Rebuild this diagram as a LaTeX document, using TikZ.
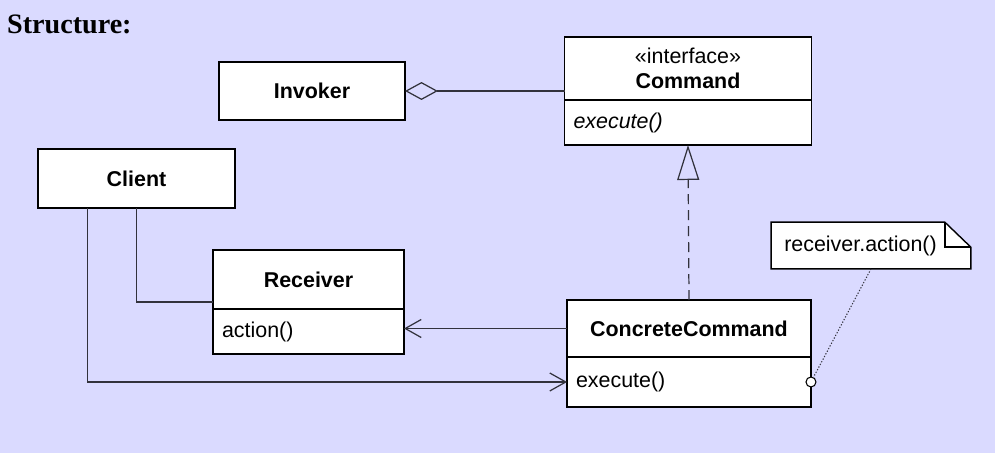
\documentclass[tikz,border=0pt]{standalone}
\usepackage{fontspec}
\setmainfont{Liberation Sans}
\newfontfamily\headfont{Liberation Serif}
\usepackage{tikz}
\usetikzlibrary{positioning,arrows.meta,calc}
\definecolor{bgcolor}{RGB}{218,218,255}
\definecolor{linecolor}{RGB}{50,50,60}
\pgfdeclarelayer{paper}
\pgfdeclarelayer{notepaper}
\pgfsetlayers{paper,notepaper,main}
\tikzstyle{classbox} = [rectangle, draw, fill=white, line width=0.8pt,
    outer sep=0pt, inner sep=0pt, font=\fontsize{12.2}{15.5}\selectfont]
\tikzstyle{classname} = [classbox, font=\fontsize{12.2}{15.5}\selectfont\bfseries]
\tikzstyle{members} = [classbox, align=left, inner xsep=0.18cm]
\tikzstyle{line} = [draw, line width=0.7pt, color=linecolor]
\tikzstyle{openarrow} = [line, -{Straight Barb[length=3.2mm, width=3.6mm, line width=0.7pt]}]
\def\radius{0.1cm}

\begin{document}
\begin{tikzpicture}[x=0.02cm, y=-0.02cm]
    \begin{pgfonlayer}{paper}
    \fill [bgcolor] (0,0) rectangle (995,453);
    \end{pgfonlayer}
    \useasboundingbox (0,0) rectangle (995,453);
    \node [anchor=west, font=\headfont\fontsize{16}{18}\selectfont\bfseries] (title) at (1,24) {Structure:};

    % Place nodes
    \node [classname, minimum width=3.72cm, minimum height=1.16cm] (invoker) at (312,91) {Invoker};
    \node [classbox, minimum width=4.94cm, minimum height=1.26cm, align=center] (cmdhead) at (688,68.5)
        {«interface»\\[-1.5pt]\textbf{Command}};
    \node [members, text width=4.58cm, minimum height=0.9cm, below=0pt of cmdhead] (cmdbody) {\itshape execute()};
    \node [classname, minimum width=3.94cm, minimum height=1.18cm] (client) at (136.5,178.5) {Client};
    \node [classname, minimum width=3.82cm, minimum height=1.18cm] (rechead) at (308.5,279.5) {Receiver};
    \node [members, text width=3.46cm, minimum height=0.9cm, below=0pt of rechead] (recbody) {action()};
    \node [classname, minimum width=4.88cm, minimum height=1.14cm] (cchead) at (689,328.5) {ConcreteCommand};
    \node [members, text width=4.52cm, minimum height=1.0cm, below=0pt of cchead] (ccbody) {execute()};
    \node [minimum width=3.98cm, minimum height=0.92cm, inner sep=0pt,
        font=\fontsize{12.2}{15.5}\selectfont] (note) at (871,245.5) {\hspace*{-0.42cm}receiver.action()};
    \coordinate (clientfoot) at ([xshift=-0.98cm]client.south);
    \coordinate (recjoin) at ([yshift=0.14cm]rechead.south west);
    \coordinate (fold) at ([xshift=-0.52cm]note.north east);

    % Draw the note behind its text
    \begin{pgfonlayer}{notepaper}
    \filldraw [fill=white, line width=0.8pt] (note.north west) -- (fold) -- ([yshift=-0.5cm]note.north east)
        -- (note.south east) -- (note.south west) -- cycle;
    \draw [line width=0.8pt] (fold) |- ([yshift=-0.5cm]note.north east);
    \end{pgfonlayer}

    % Draw edges
    \path [line, {Diamond[open, length=6.6mm, width=3.6mm, line width=0.7pt]}-] (invoker.east) -- (invoker.east -| cmdhead.west);
    \path [line, dash pattern=on 0.2cm off 0.12cm, -{Triangle[open, length=7mm, width=4.4mm, line width=0.7pt]}]
        (cchead.north) -- (cmdbody.south);
    \path [openarrow] (cchead.west) -- (cchead.west -| recbody.east);
    \path [line] (client.south) |- (recjoin);
    \path [openarrow] (clientfoot) |- (ccbody.west);
    \node [circle, draw, line width=0.6pt, fill=white, minimum size=2*\radius, inner sep=0pt] (anchorpt) at (ccbody.east) {};
    \path [line, densely dotted, line width=0.6pt] (note.south) -- (anchorpt);
\end{tikzpicture}
\end{document}
